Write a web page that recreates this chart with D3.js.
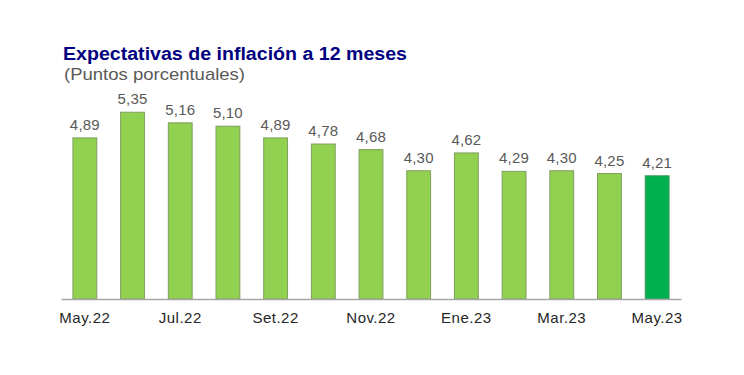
<!DOCTYPE html>
<html><head><meta charset="utf-8">
<script src="https://cdn.jsdelivr.net/npm/d3@7"></script>
<style>body{margin:0;background:#fff}svg{display:block}text{font-family:Arial,"Liberation Sans",sans-serif}</style>
</head><body>
<svg id="c" width="744" height="375"></svg>
<script>
const categories = ["May.22","Jun.22","Jul.22","Ago.22","Set.22","Oct.22","Nov.22","Dic.22","Ene.23","Feb.23","Mar.23","Abr.23","May.23"];
const values = [4.89,5.35,5.16,5.10,4.89,4.78,4.68,4.30,4.62,4.29,4.30,4.25,4.21];
const tickLabels = ["May.22","Jul.22","Set.22","Nov.22","Ene.23","Mar.23","May.23"];
const title = "Expectativas de inflación a 12 meses";
const subtitle = "(Puntos porcentuales)";

const svg = d3.select("#c");
const x = d3.scaleBand().domain(categories).range([61, 681]).paddingInner(0.5).paddingOuter(0.25);
const y = d3.scaleLinear().domain([2, 6]).range([299, 76]);

svg.append("text").attr("x", 63).attr("y", 60).attr("fill", "#000080")
  .attr("font-size", 17.5).attr("font-weight", "bold")
  .attr("textLength", 344).attr("lengthAdjust", "spacingAndGlyphs").text(title);
svg.append("text").attr("x", 64).attr("y", 80).attr("fill", "#595959")
  .attr("font-size", 17).attr("textLength", 181).attr("lengthAdjust", "spacingAndGlyphs").text(subtitle);

const last = categories[categories.length - 1];
svg.append("g").selectAll("rect").data(categories).join("rect")
  .attr("x", d => x(d)).attr("width", x.bandwidth())
  .attr("y", (d, i) => y(values[i])).attr("height", (d, i) => y(2) - y(values[i]))
  .attr("fill", d => d === last ? "#00B050" : "#92D050")
  .attr("stroke", d => d === last ? "#3f9a55" : "#7f9f60").attr("stroke-width", 1);

svg.append("g").selectAll("text").data(categories).join("text")
  .attr("x", d => x(d) + x.bandwidth() / 2).attr("y", (d, i) => y(values[i]) - 8)
  .attr("text-anchor", "middle").attr("font-size", 15).attr("fill", "#595959")
  .attr("letter-spacing", 0.2)
  .text((d, i) => d3.format(".2f")(values[i]).replace(".", ","));

const axis = d3.axisBottom(x).tickValues(tickLabels).tickSize(0).tickPadding(13);
const gx = svg.append("g").attr("transform", "translate(0,299)").call(axis);
gx.select(".domain").attr("stroke", "#a6a6a6").attr("stroke-width", 1.5);
gx.selectAll("text").attr("font-size", 15).attr("fill", "#262626").attr("letter-spacing", 0.5)
  .attr("font-family", "Arial, 'Liberation Sans', sans-serif");
</script>
</body></html>
